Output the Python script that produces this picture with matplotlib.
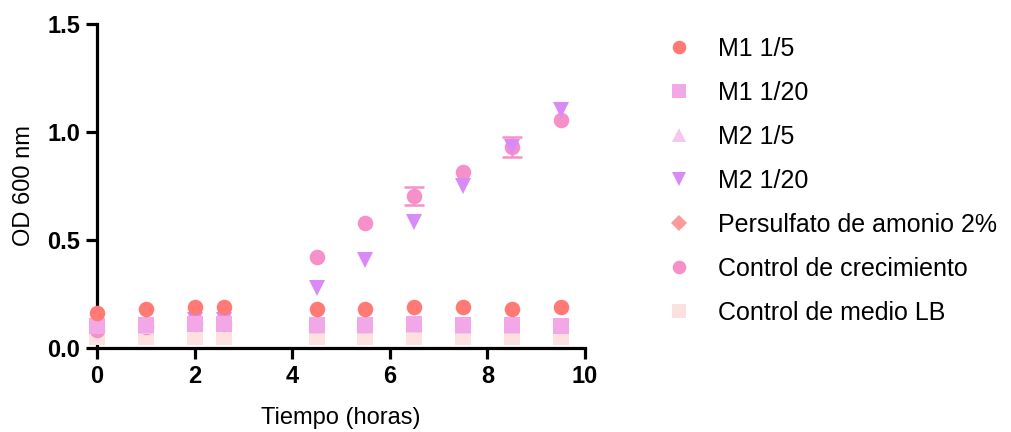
import matplotlib
matplotlib.use("Agg")
import matplotlib.pyplot as plt

plt.rcParams['font.family'] = ['Liberation Sans', 'DejaVu Sans']

time = [0, 1, 2, 2.6, 4.5, 5.5, 6.5, 7.5, 8.5, 9.5]
m1_15 = [0.160, 0.180, 0.188, 0.188, 0.179, 0.179, 0.191, 0.188, 0.179, 0.188]
m1_120 = [0.104, 0.108, 0.110, 0.110, 0.106, 0.106, 0.112, 0.106, 0.106, 0.104]
m2_15 = [0.100, 0.100, 0.110, 0.110, 0.100, 0.100, 0.105, 0.100, 0.100, 0.100]
m2_120 = [0.100, 0.105, 0.130, 0.130, 0.276, 0.407, 0.585, 0.750, 0.930, 1.100]
persulfato = [0.104, 0.108, 0.110, 0.110, 0.106, 0.106, 0.112, 0.106, 0.106, 0.104]
control_crec = [0.083, 0.099, 0.110, 0.110, 0.423, 0.577, 0.703, 0.816, 0.932, 1.055]
control_crec_err = [0, 0, 0, 0, 0, 0, 0.042, 0, 0.046, 0]
control_lb = [0.052, 0.050, 0.050, 0.050, 0.052, 0.052, 0.052, 0.052, 0.052, 0.052]

labels = ["M1 1/5", "M1 1/20", "M2 1/5", "M2 1/20",
          "Persulfato de amonio 2%", "Control de crecimiento", "Control de medio LB"]

series = [
    (m1_15, None, 'o', '#FF7A75', 11.2),
    (m1_120, None, 's', '#F2A8E6', 11.0),
    (m2_15, None, '^', '#F7C6EE', 11.0),
    (m2_120, None, 'v', '#DA8AF6', 11.0),
    (persulfato, None, 'D', '#FA9A9A', 6.5),
    (control_crec, control_crec_err, 'o', '#F590C8', 11.2),
    (control_lb, None, 's', '#FDE0E0', 11.0),
]

fig = plt.figure(figsize=(10.11, 4.32), dpi=100)
ax = fig.add_axes([97/1011, 1-348/432, (585-97)/1011, (348-24)/432])

handles = []
n = len(series)
for i, (vals, err, mk, col, ms) in enumerate(series):
    z = 10 + (n - i)
    if err is not None:
        ex = [t for t, e in zip(time, err) if e > 0]
        ey = [v for v, e in zip(vals, err) if e > 0]
        ee = [e for e in err if e > 0]
        ax.errorbar(ex, ey, yerr=ee, fmt='none', ecolor=col, elinewidth=1.8,
                    capsize=7, capthick=1.8, zorder=z - 0.5, clip_on=False)
    h, = ax.plot(time, vals, linestyle='none', marker=mk, color=col, markersize=ms,
                 markeredgewidth=0, zorder=z, clip_on=False, label=labels[i])
    handles.append(h)

ax.set_xlim(0, 10)
ax.set_ylim(0, 1.5)
ax.set_xticks([0, 2, 4, 6, 8, 10])
ax.set_yticks([0.0, 0.5, 1.0, 1.5])
ax.set_yticklabels(['0.0', '0.5', '1.0', '1.5'])
for s in ['top', 'right']:
    ax.spines[s].set_visible(False)
for s in ['left', 'bottom']:
    ax.spines[s].set_linewidth(2.3)
ax.tick_params(axis='both', direction='out', length=8, width=2.3, labelsize=17, pad=4)
for lab in ax.get_xticklabels() + ax.get_yticklabels():
    lab.set_fontweight('bold')
ax.set_xlabel('Tiempo (horas)', fontsize=17, labelpad=14)
ax.set_ylabel('OD 600 nm', fontsize=17, labelpad=9)

mk_handles = [plt.Line2D([], [], linestyle='none', marker=h.get_marker(), color=h.get_color(),
                         markersize=(9.8 if h.get_marker() != 'D' else 8.0), markeredgewidth=0)
              for h in handles]
fig.legend(handles=mk_handles, labels=labels, loc='upper left',
           bbox_to_anchor=(656/1011, 1-27/432), frameon=False, fontsize=18,
           handlelength=1.0, handletextpad=1.1,
           labelspacing=0.8, borderaxespad=0)

fig.savefig('out.png', dpi=100)
